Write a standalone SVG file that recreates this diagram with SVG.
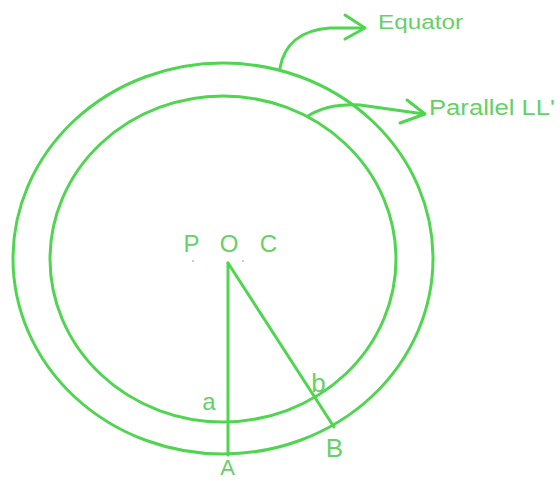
<svg xmlns="http://www.w3.org/2000/svg" width="560" height="481" viewBox="0 0 560 481">
<style>
.ln{fill:none;stroke:#4fd54f;stroke-width:3;stroke-linecap:round;stroke-linejoin:round}
.tx{fill:#66d066;font-family:"Liberation Sans",Arial,sans-serif}
</style>
<rect width="560" height="481" fill="#ffffff"/>
<g id="equator">
<ellipse class="ln" cx="223" cy="258.5" rx="210" ry="195.5"/>
</g>
<g id="parallel">
<ellipse class="ln" cx="223" cy="259" rx="173" ry="163"/>
</g>
<g id="connectors">
<path class="ln" d="M280,68 C284,45 300,30 330,28 L364,28"/>
<path class="ln" d="M345,15 L365,28 L345,39"/>
<path class="ln" d="M308,116 C322,107 340,104 360,105 L424,114"/>
<path class="ln" d="M407,100 L425,114 L400,123"/>
<path class="ln" d="M228,263 L228,455"/>
<path class="ln" d="M228,263 L334,427"/>
</g>
<g id="labels">
<text class="tx" x="378" y="29" font-size="20" textLength="85" lengthAdjust="spacingAndGlyphs">Equator</text>
<text class="tx" x="429" y="115" font-size="22" textLength="126" lengthAdjust="spacingAndGlyphs">Parallel LL'</text>
<text class="tx" x="191.5" y="252" font-size="24" text-anchor="middle">P</text>
<text class="tx" x="229" y="252" font-size="24" text-anchor="middle">O</text>
<text class="tx" x="268.5" y="252" font-size="24" text-anchor="middle">C</text>
<circle cx="193" cy="261" r="0.9" fill="#9fbf9f"/>
<circle cx="243" cy="261" r="0.9" fill="#9fbf9f"/>
<text class="tx" x="209" y="410" font-size="24" text-anchor="middle">a</text>
<text class="tx" x="318.5" y="392" font-size="26" text-anchor="middle">b</text>
<text class="tx" x="334.5" y="457" font-size="26" text-anchor="middle">B</text>
<text class="tx" x="227.5" y="475" font-size="22" text-anchor="middle">A</text>
</g>
</svg>
